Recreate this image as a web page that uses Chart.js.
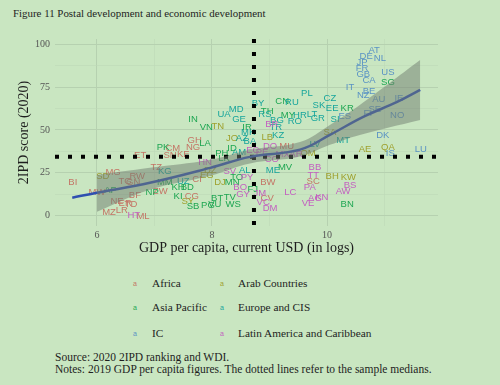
<!DOCTYPE html>
<html>
<head>
<meta charset="utf-8">
<script src="https://cdn.jsdelivr.net/npm/chart.js@4.4.1/dist/chart.umd.min.js"></script>
<style>
  html, body { margin: 0; padding: 0; }
  body {
    width: 500px; height: 385px; background: #c9e6c1; position: relative; overflow: hidden;
    font-family: "Liberation Serif", "Times New Roman", serif; color: #1e1e1e;
  }
  #title { position: absolute; left: 13px; top: 7px; font-size: 10.9px; }
  #chart { position: absolute; left: 0; top: 0; }
  .key { position: absolute; font: 7px "Liberation Sans", Arial, sans-serif; line-height: 13px; }
  .lab { position: absolute; font-size: 11.3px; line-height: 13px; }
  #notes { position: absolute; left: 55px; top: 352px; font-size: 11.5px; line-height: 11.5px; }
</style>
</head>
<body>
<div id="title">Figure 11 Postal development and economic development</div>
<canvas id="chart" width="500" height="262"></canvas>
<div id="legend"></div>
<div id="notes">Source: 2020 2IPD ranking and WDI.<br>Notes: 2019 GDP per capita figures. The dotted lines refer to the sample medians.</div>

<script>
/* ── data: log GDP per capita (x) and 2IPD score (y) per region ── */
const africaCodes = ['BI','MG','TZ','RW','TG','GN','ET','SN','KE','CM','GH','NG','CI','MW','BF','NE','ER','TD','MZ','LR','ML','ZW','CG','MU','BW','SC','CV'];
const africaGdp   = [5.58,6.28,7.03,6.70,6.49,6.63,6.75,7.27,7.50,7.32,7.70,7.67,7.74,6.00,6.66,6.35,6.49,6.59,6.21,6.43,6.80,7.10,7.65,9.30,8.97,9.76,8.96];
const africaScore = [19.2,25.0,27.9,22.7,19.8,19.2,34.9,34.9,35.5,39.0,44.2,40.1,20.9,13.4,11.6,8.1,7.0,6.4,1.7,2.9,-0.6,14.0,11.0,40.7,19.2,19.8,9.9];

const arabCodes = ['SD','TN','JO','LB','SA','OM','AE','QA','BH','KW','DJ','SY','EG','DZ'];
const arabGdp   = [6.10,8.10,8.35,8.96,10.05,9.67,10.66,11.06,10.09,10.37,8.14,7.58,7.91,7.97];
const arabScore = [22.7,52.3,44.8,45.9,48.3,36.6,38.4,40.1,22.7,22.1,19.2,8.1,23.3,26.7];

const asiaCodes = ['IN','VN','LA','PK','IR','CN','TH','MY','SG','KR','BN','ID','PH','LK','MV','TO','MN','FJ','BT','TV','PG','VU','WS','SB','KI','MM','BD','AF','NP','KH'];
const asiaGdp   = [7.67,7.90,7.88,7.15,8.61,9.22,8.96,9.32,11.06,10.35,10.35,8.35,8.17,8.21,9.27,8.43,8.35,8.71,8.09,8.31,7.93,8.05,8.37,7.67,7.41,7.18,7.57,6.23,6.96,7.41];
const asiaScore = [56.4,51.2,41.9,40.1,51.2,66.9,61.0,58.7,77.9,62.8,6.4,39.5,36.6,33.7,27.9,22.1,19.2,15.1,9.9,10.5,5.8,6.4,6.4,5.2,11.0,19.2,16.3,14.5,13.4,16.3];

const europeCodes = ['PL','CZ','SK','EE','LT','HR','GR','SI','RU','BY','MD','UA','GE','RS','BG','RO','TR','AZ','MK','BA','KZ','AM','LV','MT','KG','UZ','AL','ME'];
const europeGdp   = [9.65,10.05,9.86,10.09,9.74,9.53,9.84,10.14,9.39,8.80,8.42,8.21,8.47,8.92,9.13,9.44,9.11,8.52,8.63,8.66,9.15,8.47,9.79,10.28,7.18,7.50,8.57,9.06];
const europeScore = [71.5,68.6,64.5,62.8,59.3,58.7,57.0,56.4,66.3,65.7,62.2,59.3,56.4,59.3,55.8,55.2,51.2,45.3,48.3,43.6,47.1,37.2,41.3,44.2,25.6,19.8,26.7,26.7];

const icCodes = ['AT','DE','NL','JP','FR','GB','CA','US','IT','BE','NZ','AU','IE','SE','FI','ES','NO','DK','IS','LU'];
const icGdp   = [10.82,10.68,10.92,10.61,10.61,10.63,10.73,11.06,10.40,10.73,10.63,10.90,11.25,10.83,10.71,10.31,11.22,10.97,11.10,11.63];
const icScore = [96.5,93.0,91.9,89.5,86.0,82.6,79.1,83.7,75.0,72.7,70.3,68.0,68.6,62.2,59.9,58.1,58.7,47.1,36.6,38.4];

const lacCodes = ['BR','DO','EC','PE','MX','AR','CO','HN','SV','PY','BO','GY','JM','LC','VC','DM','VE','AG','KN','BB','TT','PA','BS','AW','HT'];
const lacGdp   = [9.04,9.01,8.71,8.87,9.23,9.46,9.04,7.88,8.31,8.61,8.49,8.54,8.83,9.36,8.89,9.01,9.67,9.79,9.91,9.79,9.76,9.70,10.40,10.28,6.64];
const lacScore = [53.5,40.7,37.8,37.2,36.0,36.0,32.6,30.8,25.6,22.1,16.3,12.2,12.8,13.4,7.6,4.1,7.0,9.9,10.5,27.9,23.8,16.3,17.4,14.0,0.0];

// sample medians
const gdpMedian = 8.73;
const scoreMedian = 34.3;

// smoothed fit and its confidence band
const fitX = [5.57,6.0,6.92,7.97,8.66,9.53,10.05,10.63,11.22,11.62];
const fitY = [10.5,13.4,19.2,27.9,34.3,38.5,47.1,57.6,66.3,73.3];
const bandX    = [6.0,6.92,7.97,8.66,9.53,10.05,10.57,11.62];
const bandLow  = [2.3,15.1,23.3,30.5,34.5,41.3,47.1,55.8];
const bandHigh = [23.8,27.9,32.6,38.5,43.0,52.9,64.5,90.7];

const xTicks = [6, 8, 10];
const yTicks = [0, 25, 50, 75, 100];

const regions = [
  { name: 'Africa',                       codes: africaCodes, gdp: africaGdp, score: africaScore, color: '#c47566' },
  { name: 'Arab Countries',               codes: arabCodes,   gdp: arabGdp,   score: arabScore,   color: '#9fa02e' },
  { name: 'Asia Pacific',                 codes: asiaCodes,   gdp: asiaGdp,   score: asiaScore,   color: '#1ea652' },
  { name: 'Europe and CIS',               codes: europeCodes, gdp: europeGdp, score: europeScore, color: '#17a59c' },
  { name: 'IC',                           codes: icCodes,     gdp: icGdp,     score: icScore,     color: '#5a93c4' },
  { name: 'Latin America and Caribbean',  codes: lacCodes,    gdp: lacGdp,    score: lacScore,    color: '#c35fc0' },
];

const zip = (xs, ys) => xs.map((x, i) => ({ x, y: ys[i] }));

/** draws the country codes at the scatter points (under the fit line) */
const textPoints = {
  id: 'textPoints',
  beforeDatasetsDraw(chart) {
    const ctx = chart.ctx;
    ctx.save();
    ctx.font = '9.5px "Liberation Sans", Arial, sans-serif';
    ctx.textAlign = 'center';
    ctx.textBaseline = 'middle';
    chart.data.datasets.forEach((ds, i) => {
      if (!ds.codes) return;
      ctx.fillStyle = ds.textColor;
      chart.getDatasetMeta(i).data.forEach((pt, j) => ctx.fillText(ds.codes[j], pt.x, pt.y));
    });
    ctx.restore();
  },
};

const serif = '"Liberation Serif", "Times New Roman", serif';
const gridMajor = '#b6d1b0';
const gridMinor = '#bdd8b7';

const datasets = regions.map(r => ({
  type: 'scatter',
  label: r.name,
  codes: r.codes,
  textColor: r.color,
  data: zip(r.gdp, r.score),
  pointRadius: 0,
  pointHoverRadius: 0,
}));

datasets.push(
  {
    type: 'line', label: 'band low', data: zip(bandX, bandLow),
    borderWidth: 0, pointRadius: 0, tension: 0.4, fill: false,
  },
  {
    type: 'line', label: 'band high', data: zip(bandX, bandHigh),
    borderWidth: 0, pointRadius: 0, tension: 0.4,
    fill: '-1', backgroundColor: 'rgba(112,124,112,0.5)',
  },
  {
    type: 'line', label: 'fit', data: zip(fitX, fitY),
    borderColor: '#2f4fb0', borderWidth: 2.5, pointRadius: 0, tension: 0.4, fill: false,
  },
  {
    type: 'line', label: 'median score', data: [{ x: 5.27, y: scoreMedian }, { x: 11.93, y: scoreMedian }],
    borderColor: '#000', borderWidth: 4, borderDash: [4, 9], borderCapStyle: 'butt', pointRadius: 0, fill: false,
  },
  {
    type: 'line', label: 'median gdp', data: [{ x: gdpMedian, y: 103 }, { x: gdpMedian, y: -6 }],
    borderColor: '#000', borderWidth: 4, borderDash: [4, 9], borderCapStyle: 'butt', pointRadius: 0, fill: false,
  },
);

new Chart(document.getElementById('chart'), {
  type: 'scatter',
  data: { datasets },
  plugins: [textPoints],
  options: {
    responsive: false,
    animation: false,
    events: [],
    layout: { padding: { left: 0, right: 62, top: 39, bottom: 0 } },
    plugins: { legend: { display: false }, tooltip: { enabled: false } },
    scales: {
      x: {
        type: 'linear', min: 5.27, max: 11.93,
        border: { display: false },
        grid: {
          drawTicks: false,
          color: c => xTicks.includes(c.tick.value) ? gridMajor : gridMinor,
          lineWidth: c => xTicks.includes(c.tick.value) ? 1 : 0.6,
        },
        ticks: {
          stepSize: 1, includeBounds: false, padding: 3, color: '#555',
          font: { family: serif, size: 10 },
          callback: v => xTicks.includes(v) ? v : '',
        },
        title: {
          display: true, text: 'GDP per capita, current USD (in logs)', color: '#1e1e1e',
          font: { family: serif, size: 14 }, padding: { top: 0, bottom: 5 },
        },
        afterFit(scale) { scale.height = 36; },
      },
      y: {
        type: 'linear', min: -6, max: 103,
        border: { display: false },
        grid: {
          drawTicks: false,
          color: c => yTicks.includes(c.tick.value) ? gridMajor : gridMinor,
          lineWidth: c => yTicks.includes(c.tick.value) ? 1 : 0.6,
        },
        ticks: {
          stepSize: 12.5, includeBounds: false, padding: 5, color: '#555',
          font: { family: serif, size: 10 },
          callback: v => yTicks.includes(v) ? v : '',
        },
        title: {
          display: true, text: '2IPD score (2020)', color: '#1e1e1e',
          font: { family: serif, size: 14 }, padding: { top: 16, bottom: 0 },
        },
        afterFit(scale) { scale.width = 55; },
      },
    },
  },
});

/* ── legend: two columns, three rows ── */
const legend = document.getElementById('legend');
const rowY = [283, 307, 333];
const keyX = [133, 220];
const labX = [152, 238];
regions.forEach((r, i) => {
  const row = Math.floor(i / 2), col = i % 2;
  const key = document.createElement('div');
  key.className = 'key';
  key.style.left = keyX[col] + 'px';
  key.style.top = (rowY[row] - 6.5) + 'px';
  key.style.color = r.color;
  key.textContent = 'a';
  const lab = document.createElement('div');
  lab.className = 'lab';
  lab.style.left = labX[col] + 'px';
  lab.style.top = (rowY[row] - 6.5) + 'px';
  lab.textContent = r.name;
  legend.appendChild(key);
  legend.appendChild(lab);
});
</script>
</body>
</html>
